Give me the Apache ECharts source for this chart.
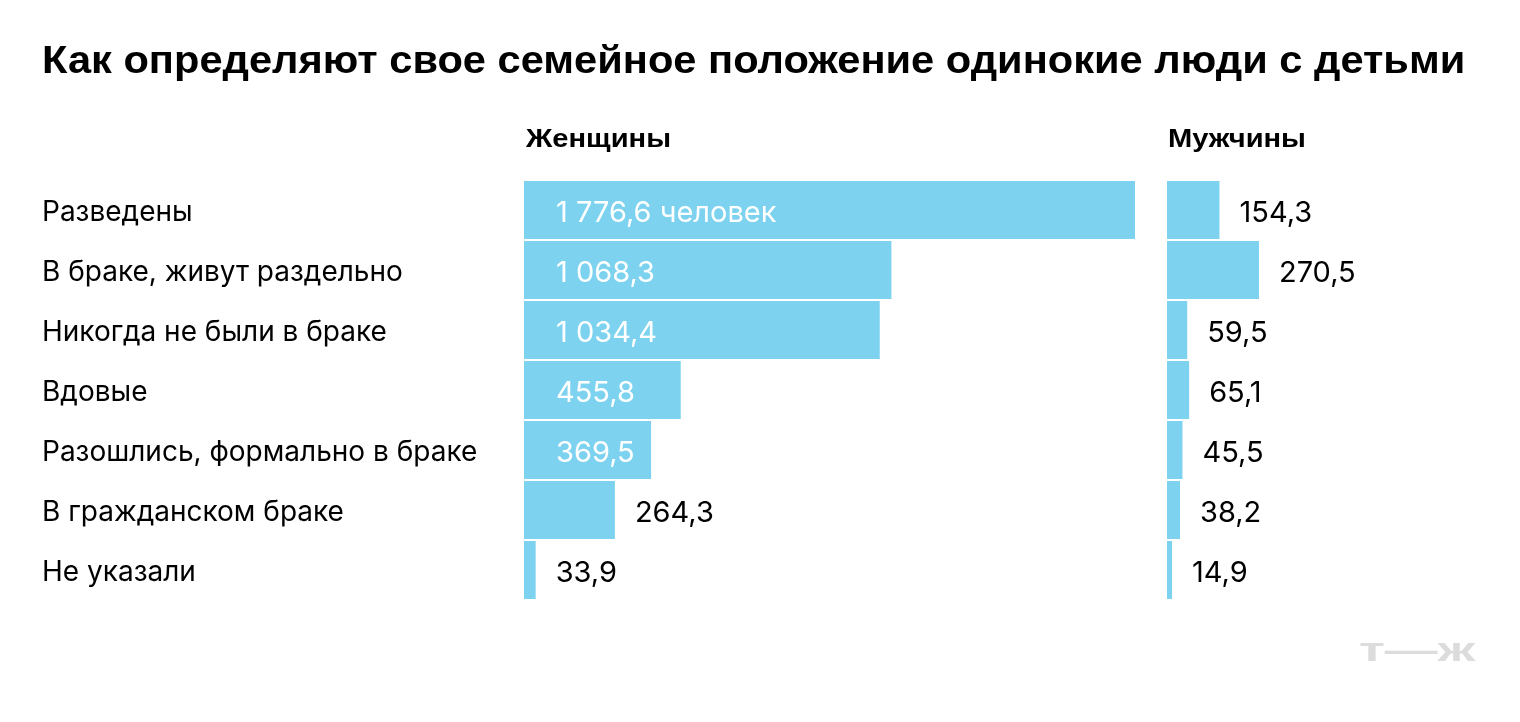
<!DOCTYPE html>
<html>
<head>
<meta charset="utf-8">
<script src="https://cdn.jsdelivr.net/npm/echarts@6/dist/echarts.min.js"></script>
<style>
  html, body { margin: 0; padding: 0; background: #fff; }
  #chart { width: 1520px; height: 722px; }
</style>
</head>
<body>
<div id="chart"></div>
<script>
const categories = [
  'Разведены',
  'В браке, живут раздельно',
  'Никогда не были в браке',
  'Вдовые',
  'Разошлись, формально в браке',
  'В гражданском браке',
  'Не указали'
]
const women = [1776.6, 1068.3, 1034.4, 455.8, 369.5, 264.3, 33.9]
const men = [154.3, 270.5, 59.5, 65.1, 45.5, 38.2, 14.9]

const barColor = '#7dd3ef'
const font = 'Inter'
const boldFont = '"Liberation Sans"'

// 1776.6 -> "1 776,6"
const fmt = v => {
  const parts = v.toFixed(1).split('.')
  const int = parts[0].replace(/\B(?=(\d{3})+(?!\d))/g, ' ')
  return int + ',' + parts[1]
}

const womenData = women.map((v, i) => {
  const inside = v > 300
  return {
    value: v,
    label: {
      position: inside ? 'insideLeft' : 'right',
      distance: inside ? 32 : 20,
      color: inside ? '#fff' : '#000',
      formatter: i === 0 ? fmt(v) + ' человек' : fmt(v)
    }
  }
})

const menData = men.map(v => ({
  value: v,
  label: { position: 'right', distance: 20, color: '#000', formatter: fmt(v) }
}))

const chart = echarts.init(document.getElementById('chart'))

const option = {
  backgroundColor: '#fff',
  animation: false,
  graphic: [
    {
      type: 'text', left: 42, top: 44, scaleX: 1.095, originX: 0,
      style: {
        text: 'Как определяют свое семейное положение одинокие люди с детьми',
        fill: '#000', font: 'bold 38px ' + boldFont
      }
    },
    {
      type: 'text', left: 526, top: 127, scaleX: 1.12, originX: 0,
      style: { text: 'Женщины', fill: '#000', font: 'bold 26px ' + boldFont }
    },
    {
      type: 'text', left: 1168, top: 127, scaleX: 1.12, originX: 0,
      style: { text: 'Мужчины', fill: '#000', font: 'bold 26px ' + boldFont }
    },
    {
      type: 'text', left: 1359, top: 635, scaleX: 1.6, originX: 0,
      style: { text: 'т—ж', fill: '#dcdcdc', font: 'bold 33px ' + boldFont }
    }
  ],
  grid: [
    { left: 524, top: 180, width: 611, height: 420 },
    { left: 1167, top: 180, width: 340, height: 420 }
  ],
  xAxis: [
    { gridIndex: 0, type: 'value', min: 0, max: 1776.6, show: false },
    { gridIndex: 1, type: 'value', min: 0, max: 1000, show: false }
  ],
  yAxis: [
    {
      gridIndex: 0, type: 'category', inverse: true, data: categories,
      axisLine: { show: false }, axisTick: { show: false },
      axisLabel: {
        align: 'left', margin: 482,
        formatter: v => '{a|' + v + '}',
        rich: { a: { fontFamily: font, fontSize: 28, color: '#000', padding: [6, 0, 0, 0] } }
      }
    },
    {
      gridIndex: 1, type: 'category', inverse: true, data: categories,
      axisLine: { show: false }, axisTick: { show: false }, axisLabel: { show: false }
    }
  ],
  series: [
    {
      type: 'bar', xAxisIndex: 0, yAxisIndex: 0, data: womenData,
      barWidth: 58,
      itemStyle: { color: barColor },
      label: { show: true, fontFamily: font, fontSize: 29, offset: [0, 3] }
    },
    {
      type: 'bar', xAxisIndex: 1, yAxisIndex: 1, data: menData,
      barWidth: 58,
      itemStyle: { color: barColor },
      label: { show: true, fontFamily: font, fontSize: 29, offset: [0, 3] }
    }
  ]
}

chart.setOption(option)
</script>
</body>
</html>
